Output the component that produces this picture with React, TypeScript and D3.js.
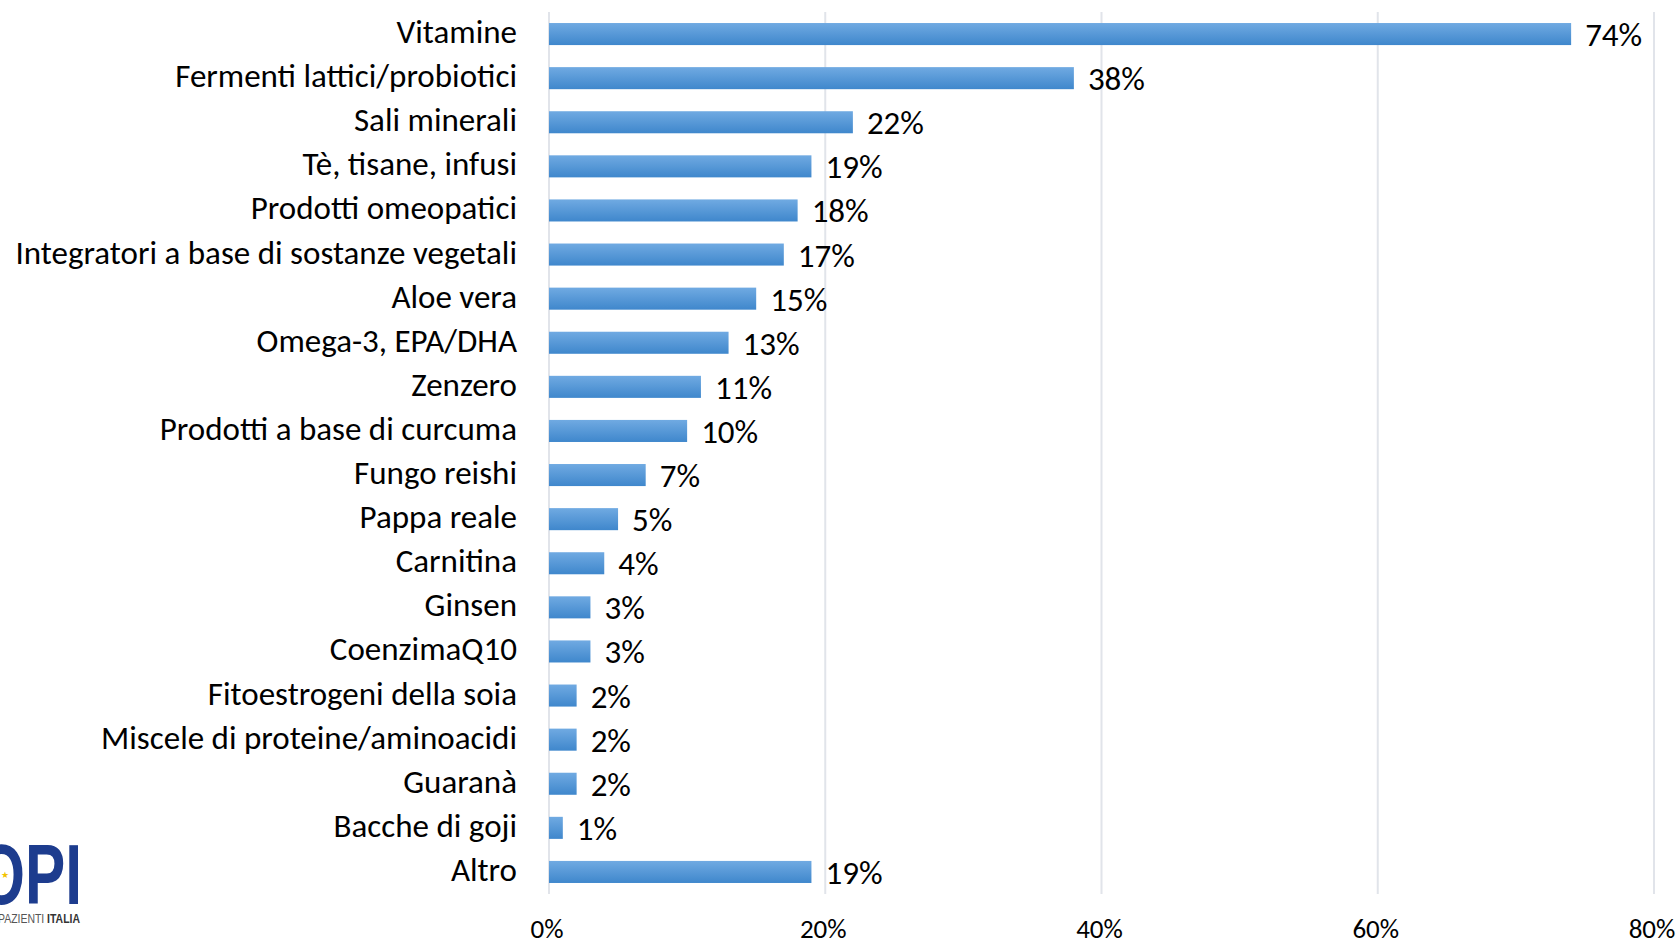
import React from "react";
import * as d3 from "d3";

const categories = [
  "Vitamine",
  "Fermenti lattici/probiotici",
  "Sali minerali",
  "Tè, tisane, infusi",
  "Prodotti omeopatici",
  "Integratori a base di sostanze vegetali",
  "Aloe vera",
  "Omega-3, EPA/DHA",
  "Zenzero",
  "Prodotti a base di curcuma",
  "Fungo reishi",
  "Pappa reale",
  "Carnitina",
  "Ginsen",
  "CoenzimaQ10",
  "Fitoestrogeni della soia",
  "Miscele di proteine/aminoacidi",
  "Guaranà",
  "Bacche di goji",
  "Altro",
];
const values = [74, 38, 22, 19, 18, 17, 15, 13, 11, 10, 7, 5, 4, 3, 3, 2, 2, 2, 1, 19];
const ticks = [0, 20, 40, 60, 80];

const W = 1679;
const H = 943;
const FONT = "Carlito, Lato, 'Open Sans', sans-serif";

export default function App() {
  const x = d3.scaleLinear().domain([0, 80]).range([549, 1654]);
  const y = d3.scaleBand<string>().domain(categories).range([12, 894]).paddingInner(0.5).paddingOuter(0.25);
  const fs = 33;
  return (
    <div style={{ position: "absolute", left: 0, top: 0 }}>
      <svg width={W} height={H} style={{ display: "block", background: "#fff" }}>
        <defs>
          <linearGradient id="barGrad" x1="0" y1="0" x2="0" y2="1">
            <stop offset="0%" stopColor="#70aae2" />
            <stop offset="100%" stopColor="#3f87cc" />
          </linearGradient>
        </defs>
        {ticks.map((t) => (
          <line key={t} x1={x(t)} x2={x(t)} y1={12} y2={894} stroke="#e1e4ea" strokeWidth={2} />
        ))}
        {categories.map((c, i) => {
          const yy = y(c)!;
          const bw = y.bandwidth();
          const cy = yy + bw / 2;
          return (
            <g key={c}>
              <rect x={x(0)} y={yy} width={x(values[i]) - x(0)} height={bw} fill="url(#barGrad)" />
              <text x={517} y={cy - 2} textAnchor="end" dominantBaseline="central" fontFamily={FONT} fontSize={fs} fill="#000">
                {c}
              </text>
              <text x={x(values[i]) + 14} y={cy + 1} dominantBaseline="central" fontFamily={FONT} fontSize={fs} fill="#000">
                {values[i] + "%"}
              </text>
            </g>
          );
        })}
        {ticks.map((t) => (
          <text key={"l" + t} x={x(t) - 2} y={928} textAnchor="middle" dominantBaseline="central" fontFamily={FONT} fontSize={27} fill="#000">
            {t + "%"}
          </text>
        ))}
        <g>
          <text x={-22} y={904} fontFamily="'Liberation Sans', Arial, sans-serif" fontWeight="bold" fontSize={86} fill="#1d3c8e" textLength={104} lengthAdjust="spacingAndGlyphs">
            OPI
          </text>
          <text x={1} y={878} fontFamily="'Liberation Sans', sans-serif" fontSize={9} fill="#f2c200">★</text>
          <text x={-2} y={923} fontFamily="'Liberation Sans', sans-serif" fontSize={12} fill="#555" textLength={82} lengthAdjust="spacingAndGlyphs">
            PAZIENTI <tspan fontWeight="bold" fill="#333">ITALIA</tspan>
          </text>
        </g>
      </svg>
    </div>
  );
}
